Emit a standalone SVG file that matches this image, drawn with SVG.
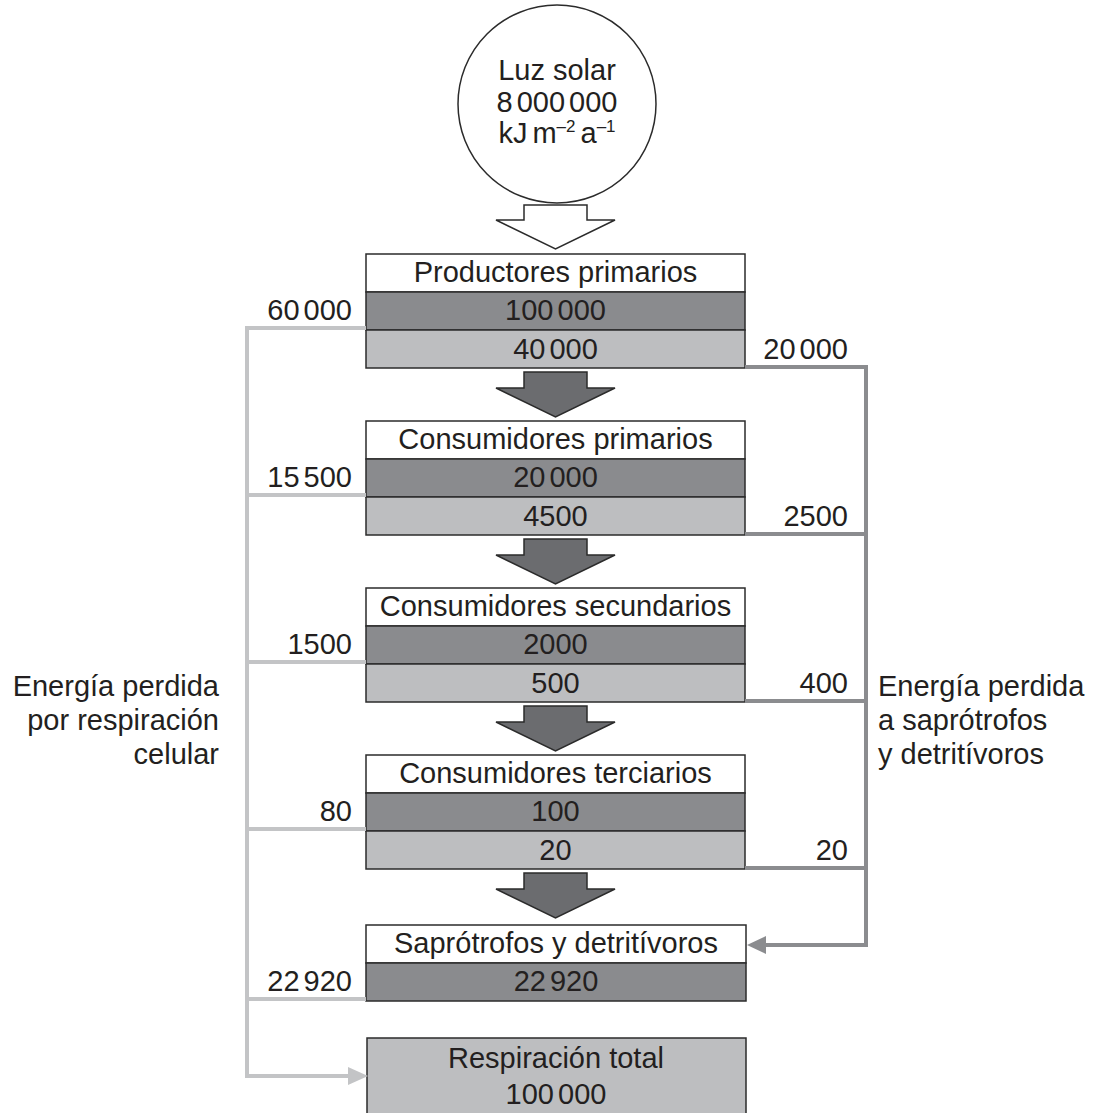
<svg xmlns="http://www.w3.org/2000/svg" width="1094" height="1113" viewBox="0 0 1094 1113">
<style>
text{font-family:"Liberation Sans",Arial,sans-serif;font-size:29px;fill:#231f20}
.c{text-anchor:middle}
.r{text-anchor:end}
.w{fill:#ffffff;stroke:#2b2b2b;stroke-width:1.5}
.d{fill:#8a8b8e;stroke:#2b2b2b;stroke-width:1.5}
.l{fill:#bdbec0;stroke:#2b2b2b;stroke-width:1.5}
.arr{fill:#6b6c6f;stroke:#2b2b2b;stroke-width:1.5;stroke-linejoin:miter}
.lg{fill:none;stroke:#c3c4c6;stroke-width:4}
.dg{fill:none;stroke:#8b8c8f;stroke-width:4}
</style>
<rect width="1094" height="1113" fill="#ffffff"/>
<g id="sun">
<circle cx="557" cy="104" r="99" fill="#ffffff" stroke="#2b2b2b" stroke-width="1.5"/>
<text class="c" x="557" y="80" font-size="28">Luz solar</text>
<text class="c" x="557" y="112" font-size="28">8<tspan dx="4">000</tspan><tspan dx="4">000</tspan></text>
<text class="c" x="557" y="143" font-size="28">kJ<tspan dx="5">m</tspan><tspan font-size="17" dy="-11">–2</tspan><tspan dx="5" dy="11">a</tspan><tspan font-size="17" dy="-11">–1</tspan></text>
<polygon points="524,205 587,205 587,220 615,220 555.5,249 496,220 524,220" fill="#ffffff" stroke="#2b2b2b" stroke-width="1.5"/>
</g>
<g id="productores">
<rect class="w" x="366" y="254" width="379" height="38"/>
<rect class="d" x="366" y="292" width="379" height="38"/>
<rect class="l" x="366" y="330" width="379" height="38"/>
<text class="c" x="555.5" y="282">Productores primarios</text>
<text class="c" x="555.5" y="320">100<tspan dx="4">000</tspan></text>
<text class="c" x="555.5" y="359">40<tspan dx="4">000</tspan></text>
</g>
<g id="arrow1"><polygon class="arr" points="524,372 587,372 587,388 615,388 555.5,417 496,388 524,388"/></g>
<g id="consumidores-primarios">
<rect class="w" x="366" y="421" width="379" height="38"/>
<rect class="d" x="366" y="459" width="379" height="38"/>
<rect class="l" x="366" y="497" width="379" height="38"/>
<text class="c" x="555.5" y="449">Consumidores primarios</text>
<text class="c" x="555.5" y="487">20<tspan dx="4">000</tspan></text>
<text class="c" x="555.5" y="526">4500</text>
</g>
<g id="arrow2"><polygon class="arr" points="524,539 587,539 587,555 615,555 555.5,584 496,555 524,555"/></g>
<g id="consumidores-secundarios">
<rect class="w" x="366" y="588" width="379" height="38"/>
<rect class="d" x="366" y="626" width="379" height="38"/>
<rect class="l" x="366" y="664" width="379" height="38"/>
<text class="c" x="555.5" y="616">Consumidores secundarios</text>
<text class="c" x="555.5" y="654">2000</text>
<text class="c" x="555.5" y="693">500</text>
</g>
<g id="arrow3"><polygon class="arr" points="524,706 587,706 587,722 615,722 555.5,751 496,722 524,722"/></g>
<g id="consumidores-terciarios">
<rect class="w" x="366" y="755" width="379" height="38"/>
<rect class="d" x="366" y="793" width="379" height="38"/>
<rect class="l" x="366" y="831" width="379" height="38"/>
<text class="c" x="555.5" y="783">Consumidores terciarios</text>
<text class="c" x="555.5" y="821">100</text>
<text class="c" x="555.5" y="860">20</text>
</g>
<g id="arrow4"><polygon class="arr" points="524,873 587,873 587,889 615,889 555.5,918 496,889 524,889"/></g>
<g id="saprotrofos">
<rect class="w" x="366" y="925" width="380" height="38"/>
<rect class="d" x="366" y="963" width="380" height="38"/>
<text class="c" x="556" y="953">Saprótrofos y detritívoros</text>
<text class="c" x="556" y="991">22<tspan dx="4">920</tspan></text>
</g>
<g id="respiracion">
<rect class="l" x="367" y="1038" width="379" height="90"/>
<text class="c" x="556" y="1068">Respiración total</text>
<text class="c" x="556" y="1104">100<tspan dx="4">000</tspan></text>
</g>
<g id="connectors">
<path class="lg" d="M366,328 H247 V1076 H350"/>
<path class="lg" d="M247,495 H366 M247,662 H366 M247,829 H366 M247,999 H366"/>
<polygon points="348,1067 368,1076 348,1085" fill="#c3c4c6"/>
<path class="dg" d="M745,367 H866 V945 H764"/>
<path class="dg" d="M745,534 H866 M745,701 H866 M745,868 H866"/>
<polygon points="766,936 747,945 766,954" fill="#8b8c8f"/>
</g>
<g id="labels">
<text class="r" x="352" y="320">60<tspan dx="4">000</tspan></text>
<text class="r" x="352" y="487">15<tspan dx="4">500</tspan></text>
<text class="r" x="352" y="654">1500</text>
<text class="r" x="352" y="821">80</text>
<text class="r" x="352" y="991">22<tspan dx="4">920</tspan></text>
<text class="r" x="848" y="359">20<tspan dx="4">000</tspan></text>
<text class="r" x="848" y="526">2500</text>
<text class="r" x="848" y="693">400</text>
<text class="r" x="848" y="860">20</text>
<text class="r" x="219" y="696">Energía perdida</text>
<text class="r" x="219" y="730">por respiración</text>
<text class="r" x="219" y="764">celular</text>
<text x="878" y="696">Energía perdida</text>
<text x="878" y="730">a saprótrofos</text>
<text x="878" y="764">y detritívoros</text>
</g>
</svg>
